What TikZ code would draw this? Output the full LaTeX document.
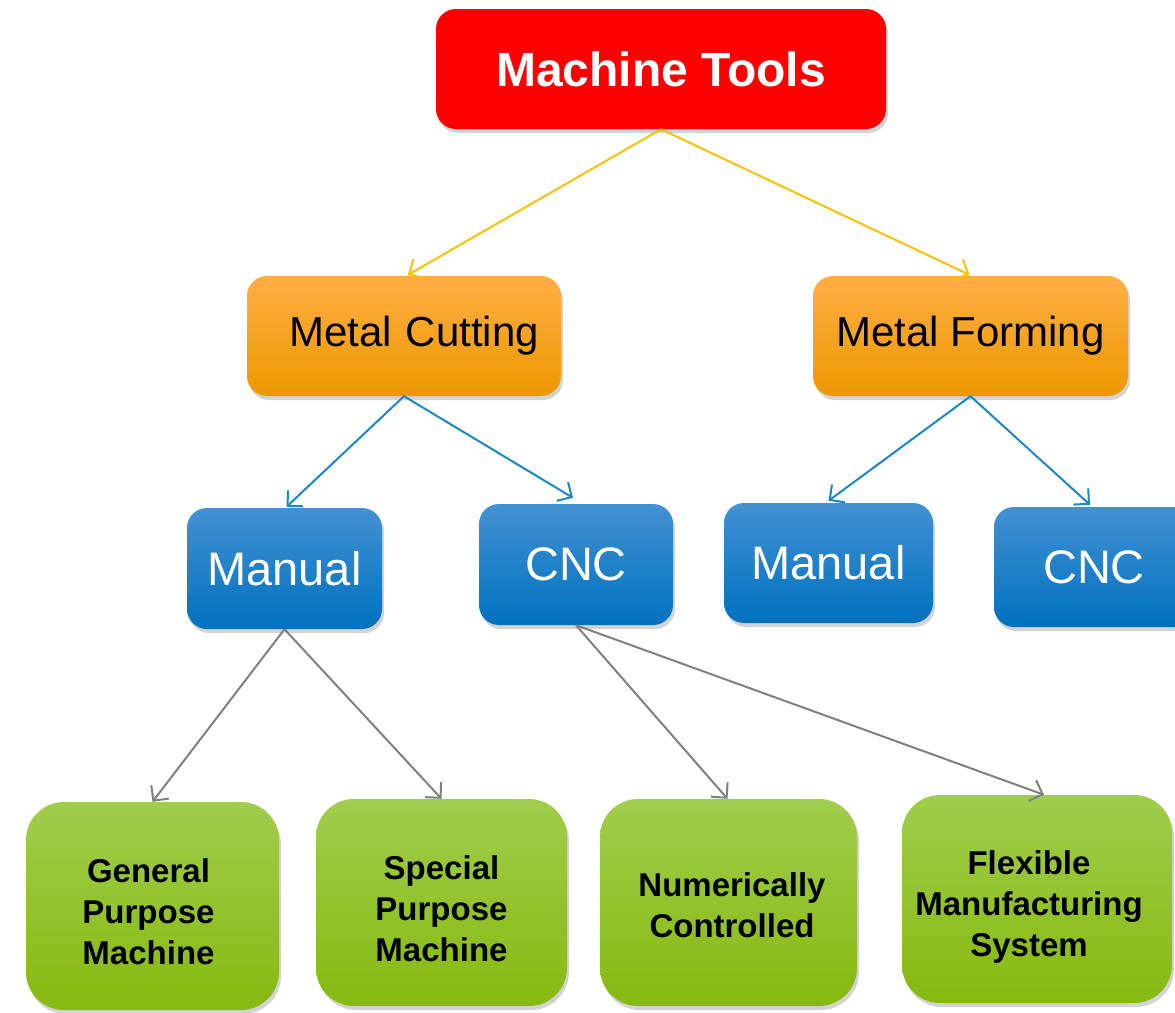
\documentclass[tikz,border=0pt]{standalone}
\usepackage{fontspec}
\setmainfont{Liberation Sans}
\usetikzlibrary{arrows.meta,shadows,calc}
\definecolor{mtred}{HTML}{FF0000}
\definecolor{ortop}{HTML}{FFAE45}
\definecolor{orbot}{HTML}{EC9800}
\definecolor{bltop}{HTML}{4391D2}
\definecolor{blbot}{HTML}{0071BF}
\definecolor{grtop}{HTML}{A0CD4C}
\definecolor{grbot}{HTML}{86B910}
\definecolor{yline}{HTML}{FFC000}
\definecolor{bline}{HTML}{1B86C8}
\definecolor{gline}{HTML}{808080}
% #1 horizontal offset (twice the shift), #2 vertical raise, #3 lines
\newcommand\gtextlines[3]{\hspace*{#1}\raisebox{#2}[0pt][0pt]{\begin{tabular}{@{}c@{}}#3\end{tabular}}}
\tikzset{
  boxbase/.style={rounded corners=20pt, inner sep=0pt, align=center,
    drop shadow={opacity=0.35, shadow xshift=2pt, shadow yshift=-4pt}},
  topbox/.style={boxbase, fill=mtred, text=white, font=\bfseries\fontsize{48}{56}\selectfont},
  orbox/.style={boxbase, top color=ortop, bottom color=orbot, text=black, font=\fontsize{42}{50}\selectfont},
  blbox/.style={boxbase, top color=bltop, bottom color=blbot, text=white, font=\fontsize{47}{54}\selectfont},
  grbox/.style={boxbase, rounded corners=38pt, top color=grtop, bottom color=grbot, text=black, font=\bfseries\fontsize{33}{41}\selectfont},
  conn/.style={line width=2pt, -{Straight Barb[length=11pt,width=22pt,line width=2pt]}},
  yconn/.style={conn, draw=yline},
  bconn/.style={conn, draw=bline},
  gconn/.style={conn, draw=gline}
}
\begin{document}
\begin{tikzpicture}[x=1pt,y=-1pt]
\clip (0,0) rectangle (1175,1012);
\useasboundingbox (0,0) rectangle (1175,1012);
% top
\node[topbox, minimum width=450pt, minimum height=120pt] (mt) at (661,69) {Machine Tools};
% second row
\node[orbox, minimum width=314pt, minimum height=120pt, text width=270pt, align=right] (mc) at (404,336) {Metal Cutting};
\node[orbox, minimum width=315pt, minimum height=120pt] (mf) at (970.5,336) {Metal Forming};
% third row
\node[blbox, minimum width=195pt, minimum height=121pt] (man1) at (284.5,568.5) {Manual};
\node[blbox, minimum width=194pt, minimum height=121pt] (cnc1) at (576,564.5) {CNC};
\node[blbox, minimum width=209pt, minimum height=120pt] (man2) at (828.5,563) {Manual};
\node[blbox, minimum width=200pt, minimum height=120pt] (cnc2) at (1094,567) {CNC};
% bottom row
\node[grbox, minimum width=253pt, minimum height=208pt] (gpm) at (152.5,906) {\gtextlines{-8pt}{-16pt}{General\\Purpose\\Machine}};
\node[grbox, minimum width=251pt, minimum height=207pt] (spm) at (441.5,902.5) {\gtextlines{0pt}{-16pt}{Special\\Purpose\\Machine}};
\node[grbox, minimum width=257pt, minimum height=207pt] (nc) at (728.5,902.5) {\gtextlines{7pt}{-13pt}{Numerically\\Controlled}};
\node[grbox, minimum width=270pt, minimum height=208pt] (fms) at (1037,899) {\gtextlines{-16pt}{-15pt}{Flexible\\Manufacturing\\System}};
% connectors
\draw[yconn] (mt.south) -- ($(mc.north)+(4,-1)$);
\draw[yconn] (mt.south) -- ($(mf.north)+(-1,-1)$);
\draw[bconn] (mc.south) -- ($(man1.north)+(2,-1)$);
\draw[bconn] (mc.south) -- ($(cnc1.north)+(-3,-6)$);
\draw[bconn] (mf.south) -- ($(man2.north)+(0,-2)$);
\draw[bconn] (mf.south) -- ($(cnc2.north)+(-4,-2)$);
\draw[gconn] (man1.south) -- (gpm.north);
\draw[gconn] (man1.south) -- (spm.north);
\draw[gconn] (cnc1.south) -- ($(nc.north)+(-1,0)$);
\draw[gconn] (cnc1.south) -- ($(fms.north)+(7,0)$);
\end{tikzpicture}
\end{document}
